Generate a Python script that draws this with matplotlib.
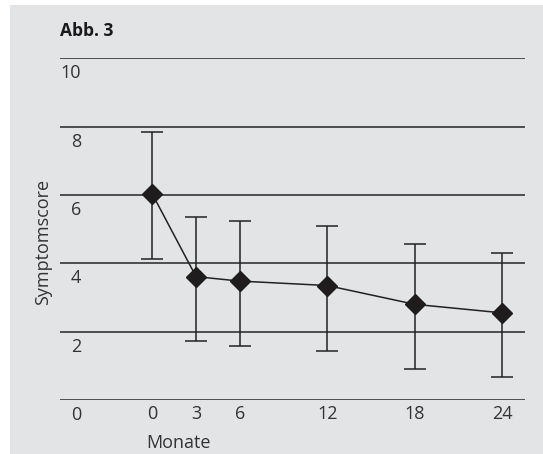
import matplotlib
matplotlib.use("Agg")
import matplotlib.pyplot as plt
from matplotlib.patches import Rectangle

plt.rcParams['font.family'] = ['Open Sans', 'DejaVu Sans']

# data
monate = [0, 3, 6, 12, 18, 24]
score = [6.03, 3.61, 3.48, 3.35, 2.80, 2.55]
oben = [7.83, 5.36, 5.24, 5.09, 4.56, 4.31]
unten = [4.14, 1.73, 1.58, 1.44, 0.91, 0.66]
y_ticks = [0, 2, 4, 6, 8, 10]

W, H = 543, 454
fig = plt.figure(figsize=(W / 100, H / 100), dpi=100, facecolor='white')

# grey panel
fig.patches.append(Rectangle((10 / W, 0), 1 - 10 / W, 1 - 5 / H,
                             transform=fig.transFigure, facecolor='#e3e4e6',
                             edgecolor='none', zorder=-10))

# axes placed in pixels: x 60..525, y 400 (0) .. 58.3 (10)
ax = fig.add_axes([60 / W, (H - 400) / H, (525 - 60) / W, (400 - 58.3) / H])
ax.set_zorder(5)
ax.set_facecolor('none')
ax.set_xlim(-6.33, 25.56)
ax.set_ylim(0, 10)
for s in ax.spines.values():
    s.set_visible(False)
ax.set_xticks([])
ax.set_yticks([])

gc = '#4d4d4d'
fs = 13
for v in y_ticks:
    ax.axhline(v, color=gc, lw=1.4, zorder=1)
    ax.text(-4.89, v - 0.44, str(v), ha='right', va='center', fontsize=fs,
            color='#333333', clip_on=False)

for m in monate:
    ax.text(m, -0.41, str(m), ha='center', va='center', fontsize=fs,
            color='#333333', clip_on=False)

err_lo = [s - u for s, u in zip(score, unten)]
err_hi = [o - s for s, o in zip(score, oben)]
ax.errorbar(monate, score, yerr=[err_lo, err_hi], fmt='none', ecolor='#222222',
            elinewidth=1.1, capsize=8.2, capthick=1.1, zorder=2, clip_on=False)
ax.plot(monate, score, color='#222222', lw=1.1, zorder=3)
ax.plot(monate, score, 'D', color='#1e1c1c', ms=10.5, zorder=4)

fig.text(179 / W, 1 - 443 / H, 'Monate', ha='center', va='center',
         fontsize=fs, color='#333333')
fig.text(43 / W, 1 - 242 / H, 'Symptomscore', ha='center', va='center',
         rotation=90, fontsize=fs, color='#333333')
fig.text(60 / W, 1 - 31 / H, 'Abb. 3', ha='left', va='center',
         fontsize=12.5, fontweight='bold', color='#1a1a1a')

fig.savefig('out.png', dpi=100, facecolor='white')
